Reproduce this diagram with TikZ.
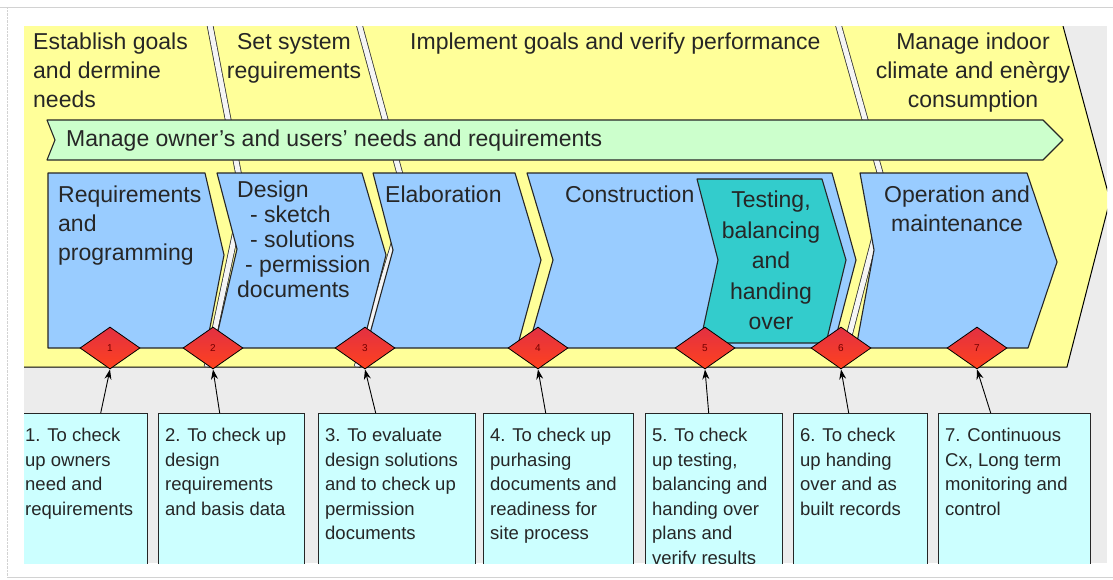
\documentclass[tikz,border=0pt]{standalone}
\usepackage{fontspec}
\setmainfont{Liberation Sans}
\usetikzlibrary{shapes.geometric,arrows.meta}
\definecolor{phaseyellow}{RGB}{255,255,153}
\definecolor{stepblue}{RGB}{153,204,255}
\definecolor{testteal}{RGB}{51,204,204}
\definecolor{needgreen}{RGB}{204,255,204}
\definecolor{checkcyan}{RGB}{204,255,255}
\definecolor{backgray}{RGB}{236,236,236}
\definecolor{gatetop}{RGB}{226,48,66}
\definecolor{gatebottom}{RGB}{255,66,30}
\definecolor{inkgray}{RGB}{38,38,38}

\begin{document}
\begin{tikzpicture}[x=1pt, y=-1pt,
        >={Stealth[length=10pt, width=7pt]},
        every node/.style={text=inkgray},
        big/.style={font=\fontsize{23}{29}\selectfont, inner sep=0pt},
        stepline/.style={draw=black!85, line width=1.1pt, line join=round},
        seam/.style={draw=black!80, line width=0.8pt, double=gray!8, double distance=5pt},
        gate/.style={diamond, draw=black, line width=0.8pt, top color=gatetop, bottom color=gatebottom,
            minimum width=60pt, minimum height=42pt, inner sep=0pt,
            font=\fontsize{10}{10}\selectfont, text=red!45!black},
        cxbox/.style={draw=inkgray, line width=1.4pt, fill=checkcyan, anchor=north west, minimum height=170pt},
        cxtext/.style={anchor=north west, align=left, inner xsep=7pt, inner ysep=15pt,
            font=\fontsize{18.5}{24.5}\selectfont}]
    \useasboundingbox (0,0) rectangle (1113,579);
    \draw[gray!35] (0,7) -- (1113,7);
    \draw[gray!35, densely dotted] (7,7) -- (7,577);
    \draw[gray!35] (7,577) -- (1113,577);

    \begin{scope}
        \clip (24,26) rectangle (1107,563);
        \fill[backgray] (24,26) rectangle (1107,563);
        \fill[phaseyellow] (24,26) -- (1063,26) -- (1110,200) -- (1067,367) -- (24,367) -- cycle;
        \draw[seam] (209,20) -- (243,197) -- (207,367);
        \draw[seam] (358,20) -- (407,200) -- (357,367);
        \draw[seam] (837,20) -- (886,194) -- (841,367);
        \draw[line width=1pt] (1063,26) -- (1110,200) -- (1067,367) -- (24,367);

        \node[big, anchor=north west, align=left] (goals) at (33,33) {Establish goals\\and dermine\\needs};
        \node[big, anchor=north, align=center] (system) at (294,33) {Set system\\reguirements};
        \node[big, anchor=north west] (verify) at (410,33) {Implement goals and verify performance};
        \node[big, anchor=north, align=center] (climate) at (973,33) {Manage indoor\\climate and enèrgy\\consumption};

        \filldraw[fill=needgreen, stepline] (47,120) -- (1043,120) -- (1063,140) -- (1043,160) -- (47,160) -- (55,140) -- cycle;
        \node[big, anchor=west] (needs) at (66,141) {Manage owner’s and users’ needs and requirements};

        \filldraw[fill=stepblue, stepline] (48,173) -- (205,173) -- (224,255) -- (206,348) -- (48,348) -- cycle;
        \filldraw[fill=stepblue, stepline] (217,173) -- (362,173) -- (386,255) -- (362,348) -- (214,348) -- (237,249) -- cycle;
        \filldraw[fill=stepblue, stepline] (373,173) -- (515,173) -- (541,260) -- (517,348) -- (366,348) -- (393,250) -- cycle;
        \filldraw[fill=stepblue, stepline] (527,173) -- (832,173) -- (856,260) -- (833,348) -- (528,348) -- (553,260) -- cycle;
        \filldraw[fill=testteal, stepline] (697,179) -- (822,179) -- (846,260) -- (826,343) -- (700,343) -- (718,260) -- cycle;
        \filldraw[fill=stepblue, stepline] (860,173) -- (1027,173) -- (1057,262) -- (1028,348) -- (856,348) -- (874,250) -- cycle;

        \node[big, anchor=north west, align=left] (reqs) at (58,186) {Requirements\\and\\programming};
        \node[big, font=\fontsize{23}{25}\selectfont, anchor=north west, align=left] (design) at (237,181)
            {Design\\\hspace*{13pt}- sketch\\\hspace*{13pt}- solutions\\\hspace*{8pt}- permission\\documents};
        \node[big, anchor=north west] (elab) at (385,186) {Elaboration};
        \node[big, anchor=north west] (constr) at (565,186) {Construction};
        \node[big, font=\fontsize{23}{30.5}\selectfont, anchor=north, align=center] (testing) at (771,191)
            {Testing,\\balancing\\and\\handing\\over};
        \node[big, anchor=north, align=center] (oper) at (957,186) {Operation and\\maintenance};

        \node[gate] (g1) at (110,348) {1};
        \node[gate] (g2) at (213,348) {2};
        \node[gate] (g3) at (365,348) {3};
        \node[gate] (g4) at (538,348) {4};
        \node[gate] (g5) at (705,348) {5};
        \node[gate] (g6) at (841,348) {6};
        \node[gate] (g7) at (977,348) {7};

        \node[cxbox, minimum width=129pt] (c1) at (18,413) {};
        \node[cxbox, minimum width=146pt] (c2) at (158,413) {};
        \node[cxbox, minimum width=157pt] (c3) at (318,413) {};
        \node[cxbox, minimum width=150pt] (c4) at (483,413) {};
        \node[cxbox, minimum width=137pt] (c5) at (645,413) {};
        \node[cxbox, minimum width=134pt] (c6) at (793,413) {};
        \node[cxbox, minimum width=152pt] (c7) at (938,413) {};

        \node[cxtext] (t1) at (c1.north west) {1. To check\\up owners\\need and\\requirements};
        \node[cxtext] (t2) at (c2.north west) {2. To check up\\design\\requirements\\and basis data};
        \node[cxtext] (t3) at (c3.north west) {3. To evaluate\\design solutions\\and to check up\\permission\\documents};
        \node[cxtext] (t4) at (c4.north west) {4. To check up\\purhasing\\documents and\\readiness for\\site process};
        \node[cxtext] (t5) at (c5.north west) {5. To check\\up testing,\\balancing and\\handing over\\plans and\\verify results};
        \node[cxtext] (t6) at (c6.north west) {6. To check\\up handing\\over and as\\built records};
        \node[cxtext] (t7) at (c7.north west) {7. Continuous\\Cx, Long term\\monitoring and\\control};

        \draw[->, line width=0.9pt] ([xshift=17.5pt]c1.north) -- (g1.south);
        \draw[->, line width=0.9pt] ([xshift=-12pt]c2.north) -- (g2.south);
        \draw[->, line width=0.9pt] ([xshift=-21.5pt]c3.north) -- (g3.south);
        \draw[->, line width=0.9pt] ([xshift=-13pt]c4.north) -- (g4.south);
        \draw[->, line width=0.9pt] ([xshift=-5.5pt]c5.north) -- (g5.south);
        \draw[->, line width=0.9pt] ([xshift=-12pt]c6.north) -- (g6.south);
        \draw[->, line width=0.9pt] ([xshift=-24pt]c7.north) -- (g7.south);
    \end{scope}
\end{tikzpicture}
\end{document}
